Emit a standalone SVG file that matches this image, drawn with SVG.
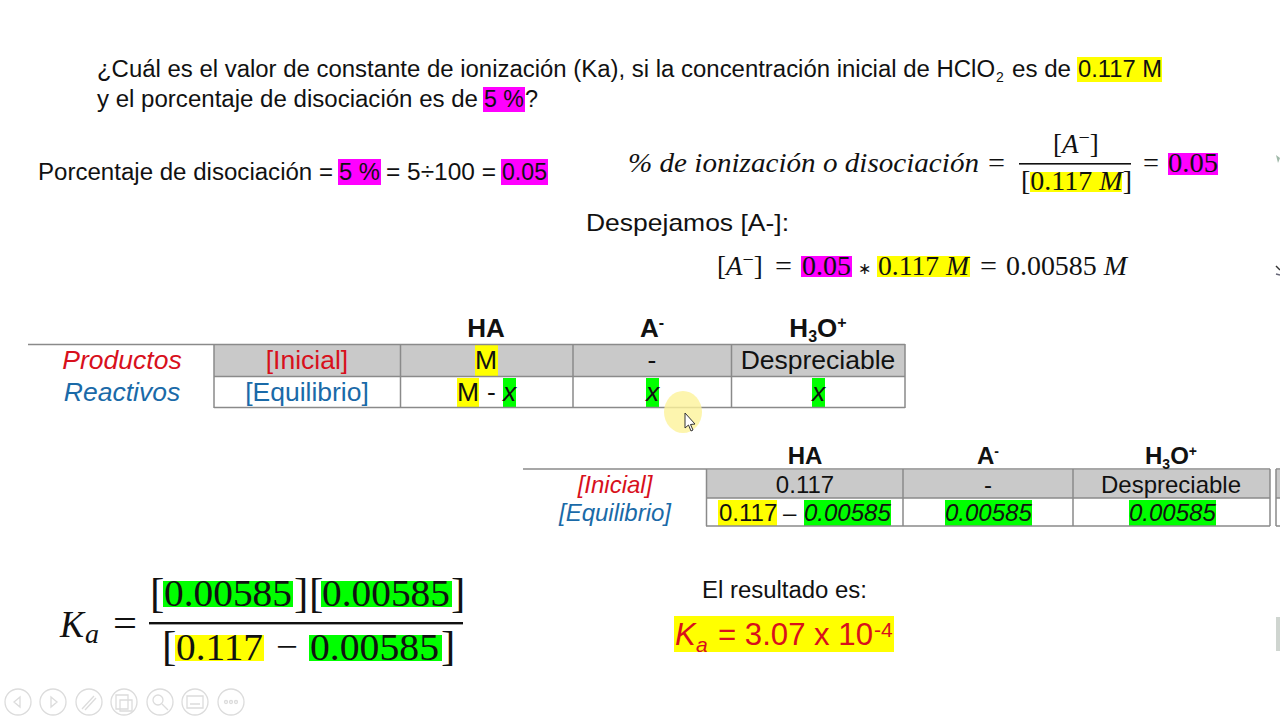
<svg xmlns="http://www.w3.org/2000/svg" width="1280" height="720" viewBox="0 0 1280 720">
<style>
text{font-family:"Liberation Sans",Arial,sans-serif;fill:#111}
.m{font-family:"Liberation Serif","Times New Roman",serif;font-size:27px}
.k{font-family:"Liberation Serif","Times New Roman",serif;font-size:37px}
.b{font-family:"Liberation Serif","Times New Roman",serif;font-size:43px;font-weight:normal}
.i{font-style:italic}
.t1{font-size:26.5px}
.t2{font-size:24px}
.c{text-anchor:middle}
.h1{font-size:26px;font-weight:bold;text-anchor:middle}
.h2{font-size:24px;font-weight:bold;text-anchor:middle}
.red{fill:#d8101c}
.blue{fill:#1a6aa8}
.y{fill:#ffff00}
.p{fill:#ff00ff}
.g{fill:#00ff00}
.grey{fill:#c9c9c9}
.ln{stroke:#8a8a8a;stroke-width:1.5;fill:none}
.tb{fill:none;stroke:#dcdcdc;stroke-width:1.3}
</style>
<rect width="1280" height="720" fill="#fff"/>

<g id="pregunta">
<rect class="y" x="1077" y="57" width="85" height="25"/>
<rect class="p" x="483" y="87" width="42" height="25"/>
<text x="97" y="77" font-size="23.5" textLength="898" lengthAdjust="spacingAndGlyphs">¿Cuál es el valor de constante de ionización (Ka), si la concentración inicial de HClO</text>
<text x="996" y="82" font-size="14">2</text>
<text x="1012" y="77" font-size="23.5" textLength="59" lengthAdjust="spacingAndGlyphs">es de</text>
<text x="1078" y="77" font-size="23.5" textLength="84" lengthAdjust="spacingAndGlyphs">0.117 M</text>
<text x="97" y="107" font-size="23.5" textLength="381" lengthAdjust="spacingAndGlyphs">y el porcentaje de disociación es de</text>
<text x="484" y="107" font-size="23.5" textLength="40" lengthAdjust="spacingAndGlyphs">5 %</text>
<text x="525" y="107" font-size="23.5">?</text>
</g>

<g id="porcentaje">
<rect class="p" x="338" y="159" width="43" height="26"/>
<rect class="p" x="501" y="159" width="47" height="26"/>
<text x="38" y="180" font-size="23.5" textLength="295" lengthAdjust="spacingAndGlyphs">Porcentaje de disociación =</text>
<text x="339" y="180" font-size="23.5" textLength="41" lengthAdjust="spacingAndGlyphs">5 %</text>
<text x="386" y="180" font-size="23.5" textLength="110" lengthAdjust="spacingAndGlyphs">= 5÷100 =</text>
<text x="502" y="180" font-size="23.5" textLength="45" lengthAdjust="spacingAndGlyphs">0.05</text>
</g>

<g id="formula-ionizacion">
<rect class="y" x="1030" y="172" width="92" height="20"/>
<rect class="p" x="1168" y="153" width="50" height="22"/>
<text class="m i" x="628" y="172" textLength="351" lengthAdjust="spacingAndGlyphs">% de ionización o disociación</text>
<text class="m" x="988" y="172" textLength="17" lengthAdjust="spacingAndGlyphs">=</text>
<text class="m" x="1053" y="153"><tspan>[</tspan><tspan class="i">A</tspan><tspan font-size="20" dy="-9">−</tspan><tspan dy="9">]</tspan></text>
<rect x="1019" y="163" width="112" height="1.600" fill="#111"/>
<text class="m" x="1021" y="190" textLength="111" lengthAdjust="spacingAndGlyphs">[0.117 <tspan class="i">M</tspan>]</text>
<text class="m" x="1143" y="172" textLength="16" lengthAdjust="spacingAndGlyphs">=</text>
<text class="m" x="1168" y="172" textLength="50" lengthAdjust="spacingAndGlyphs">0.05</text>
</g>

<g id="despejamos">
<text x="586" y="231" font-size="24" textLength="203" lengthAdjust="spacingAndGlyphs">Despejamos [A-]:</text>
</g>

<g id="formula-a">
<rect class="p" x="801" y="256" width="51" height="21"/>
<rect class="y" x="877" y="256" width="93" height="21"/>
<text class="m" x="717" y="275"><tspan>[</tspan><tspan class="i">A</tspan><tspan font-size="20" dy="-9">−</tspan><tspan dy="9">]</tspan></text>
<text class="m" x="775" y="275" textLength="17" lengthAdjust="spacingAndGlyphs">=</text>
<text class="m" x="802" y="275" textLength="49" lengthAdjust="spacingAndGlyphs">0.05</text>
<text class="m" x="858" y="274" style="font-size:16px">∗</text>
<text class="m" x="878" y="275" textLength="91" lengthAdjust="spacingAndGlyphs">0.117 <tspan class="i">M</tspan></text>
<text class="m" x="980" y="275" textLength="17" lengthAdjust="spacingAndGlyphs">=</text>
<text class="m" x="1006" y="275" textLength="121" lengthAdjust="spacingAndGlyphs">0.00585 <tspan class="i">M</tspan></text>
</g>

<g id="tabla-general">
<rect class="grey" x="214" y="345" width="691" height="31"/>
<rect class="y" x="475" y="345" width="23" height="31"/>
<rect class="y" x="457" y="378" width="22" height="29"/>
<rect class="g" x="503" y="378" width="13" height="29"/>
<rect class="g" x="646" y="378" width="13" height="29"/>
<rect class="g" x="812" y="378" width="13" height="29"/>
<path class="ln" d="M28 344.500H905M214 376.500H905M214 407.500H905M214 344V408M400.500 344V408M573 344V408M731.500 344V408M905 344V408"/>
<text class="h1" x="486" y="337">HA</text>
<text class="h1" x="652" y="337">A<tspan font-size="16" dy="-9">-</tspan></text>
<text class="h1" x="818" y="337">H<tspan font-size="16" dy="5">3</tspan><tspan dy="-5">O</tspan><tspan font-size="16" dy="-9">+</tspan></text>
<text class="t1 i red c" x="122" y="369">Productos</text>
<text class="t1 i blue c" x="122" y="401">Reactivos</text>
<text class="t1 red c" x="307" y="369">[Inicial]</text>
<text class="t1 blue c" x="307" y="401">[Equilibrio]</text>
<text class="t1 c" x="486" y="369">M</text>
<text class="t1 c" x="652" y="369">-</text>
<text class="t1 c" x="818" y="369">Despreciable</text>
<text class="t1" x="457" y="401">M</text>
<text class="t1" x="487" y="401">-</text>
<text class="t1 i c" x="509.500" y="401">x</text>
<text class="t1 i c" x="652.500" y="401">x</text>
<text class="t1 i c" x="818.500" y="401">x</text>
</g>

<g id="cursor">
<ellipse cx="683" cy="412" rx="19" ry="21" fill="#fcf39a" opacity="0.8"/>
<path d="M685 413V428L688.500 425L691 431L693 430L690.500 424.500L695 424Z" fill="#fff" stroke="#333" stroke-width="1"/>
</g>

<g id="tabla-valores">
<rect class="grey" x="706" y="470" width="564" height="28"/>
<rect class="grey" x="1276" y="470" width="4" height="28"/>
<rect class="y" x="718" y="500" width="59" height="26"/>
<rect class="g" x="804" y="500" width="87" height="26"/>
<rect class="g" x="945" y="500" width="87" height="26"/>
<rect class="g" x="1129" y="500" width="87" height="26"/>
<path class="ln" d="M523 469H1270M1276 469H1280M706 498H1270M1276 498H1280M706 526H1270M1276 526H1280M706.500 469V526M903 469V526M1073 469V526M1270 469V526M1276 469V526"/>
<text class="h2" x="805" y="464">HA</text>
<text class="h2" x="988" y="464">A<tspan font-size="14" dy="-8">-</tspan></text>
<text class="h2" x="1171" y="464">H<tspan font-size="14" dy="5">3</tspan><tspan dy="-5">O</tspan><tspan font-size="14" dy="-8">+</tspan></text>
<text class="t2 i red c" x="615" y="493">[Inicial]</text>
<text class="t2 i blue c" x="615" y="521">[Equilibrio]</text>
<text class="t2 c" x="805" y="493">0.117</text>
<text class="t2 c" x="988" y="493">-</text>
<text class="t2 c" x="1171" y="493">Despreciable</text>
<text class="t2" x="719" y="521">0.117</text>
<text class="t2" x="783" y="521">–</text>
<text class="t2 i" x="804" y="521">0.00585</text>
<text class="t2 i" x="945" y="521">0.00585</text>
<text class="t2 i" x="1129" y="521">0.00585</text>
</g>

<g id="formula-ka">
<rect class="g" x="163" y="581" width="130" height="26"/>
<rect class="g" x="321" y="581" width="131" height="26"/>
<rect class="y" x="175" y="635" width="89" height="26"/>
<rect class="g" x="309" y="635" width="133" height="26"/>
<text class="k i" x="60" y="637" textLength="24" lengthAdjust="spacingAndGlyphs" style="font-size:38px">K</text>
<text class="k i" x="85" y="643" style="font-size:28px">a</text>
<text class="k" x="113" y="637" textLength="24" lengthAdjust="spacingAndGlyphs" style="font-size:39px">=</text>
<rect x="149" y="622" width="314" height="2.400" fill="#111"/>
<text class="b" x="150" y="607">[</text>
<text class="k" x="164" y="606" textLength="128" lengthAdjust="spacingAndGlyphs">0.00585</text>
<text class="b" x="294" y="607">]</text>
<text class="b" x="309" y="607">[</text>
<text class="k" x="322" y="606" textLength="128" lengthAdjust="spacingAndGlyphs">0.00585</text>
<text class="b" x="451" y="607">]</text>
<text class="b" x="162" y="660">[</text>
<text class="k" x="176" y="660" textLength="87" lengthAdjust="spacingAndGlyphs">0.117</text>
<text class="k" x="276" y="659" textLength="22" lengthAdjust="spacingAndGlyphs">−</text>
<text class="k" x="310" y="660" textLength="129" lengthAdjust="spacingAndGlyphs">0.00585</text>
<text class="b" x="441" y="660">]</text>
</g>

<g id="resultado">
<rect class="y" x="674" y="616" width="220" height="36"/>
<text x="702" y="598" font-size="23.5" textLength="165" lengthAdjust="spacingAndGlyphs">El resultado es:</text>
<text class="red" x="675" y="645" font-size="31" font-style="italic">K</text>
<text class="red" x="696" y="652" font-size="21" font-style="italic">a</text>
<text class="red" x="718" y="645" font-size="31" textLength="155" lengthAdjust="spacingAndGlyphs">= 3.07 x 10</text>
<text class="red" x="874" y="637" font-size="21">-4</text>
</g>

<g id="barra-herramientas">
<circle class="tb" cx="18" cy="702" r="13"/><circle class="tb" cx="53" cy="702" r="13"/><circle class="tb" cx="89" cy="702" r="13"/><circle class="tb" cx="124" cy="702" r="13"/><circle class="tb" cx="160" cy="702" r="13"/><circle class="tb" cx="195" cy="702" r="13"/><circle class="tb" cx="231" cy="702" r="13"/>
<path class="tb" d="M20 697L14 702L20 707ZM51 697L57 702L51 707ZM82 709L94 696M85 710L96 698M116 695H128V709H116ZM120 700H132V711H120Z"/>
<circle class="tb" cx="158" cy="700" r="5"/>
<path class="tb" d="M162 704L168 710M187 696H203V708H187ZM190 704H200"/>
<circle class="tb" cx="226" cy="702" r="1.500"/><circle class="tb" cx="231" cy="702" r="1.500"/><circle class="tb" cx="236" cy="702" r="1.500"/>
</g>

<g id="bordes">
<path d="M1276 155L1280 158L1278 163Z" fill="#9fb8a8"/>
<path d="M1276 266L1280 270" stroke="#333" stroke-width="1.500"/>
<path d="M1276 274L1280 275" stroke="#667" stroke-width="1.500"/>
<rect x="1276" y="617" width="4" height="34" fill="#cfd5d0"/>
</g>
</svg>
